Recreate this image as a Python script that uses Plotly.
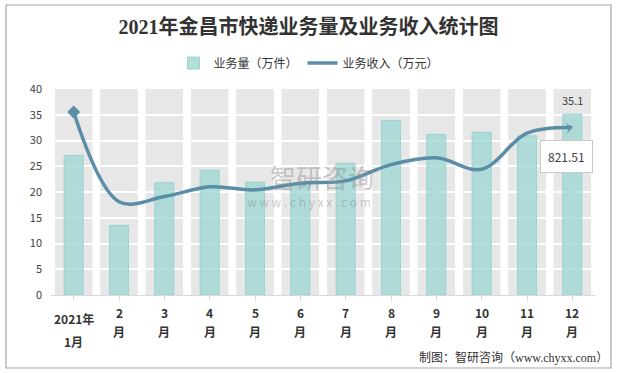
import plotly.graph_objects as go

months_top = ["2021年", "2", "3", "4", "5", "6", "7", "8", "9", "10", "11", "12"]
months_bottom = ["1月", "月", "月", "月", "月", "月", "月", "月", "月", "月", "月", "月"]
volume = [27.1, 13.5, 21.8, 24.2, 21.9, 21.6, 25.6, 33.9, 31.2, 31.6, 30.9, 35.1]
revenue = [898, 458, 483, 531, 516, 549, 560, 640, 673, 617, 794, 821.51]

Y_MAX = 40
Y2_MAX = 1011

BAR_COLOR = "rgba(160,215,211,0.8)"
BAR_LINE = "rgba(150,210,205,0.9)"
LINE_COLOR = "#5A8EA7"
TXT = "#333333"
CJK = "Noto Sans CJK SC"

# plot area geometry (pixels)
L, R, T, B = 51, 22, 89, 78
W = 617 - L - R
H = 373 - T - B


def px(xp):
    return (xp - L) / W


def py(yp):
    return (T + H - yp) / H


n = len(months_top)
x_idx = list(range(n))

fig = go.Figure()
fig.add_trace(go.Bar(
    x=x_idx, y=volume, name="业务量（万件）", width=0.42,
    marker=dict(color=BAR_COLOR, line=dict(color=BAR_LINE, width=1)),
))
sizes = [0] * (n - 1) + [11]
symbols = ["circle"] * (n - 1) + ["arrow-wide"]
fig.add_trace(go.Scatter(
    x=x_idx, y=revenue, name="业务收入（万元）", yaxis="y2",
    mode="lines+markers",
    line=dict(color=LINE_COLOR, width=3.5, shape="spline", smoothing=1.0),
    marker=dict(size=sizes, symbol=symbols, color=LINE_COLOR, angleref="previous",
                line=dict(width=0)),
))
# start-of-line marker (diamond at the first point)
fig.add_trace(go.Scatter(
    x=x_idx[:1], y=revenue[:1], yaxis="y2", mode="markers", showlegend=False,
    marker=dict(size=10, symbol="diamond", color=LINE_COLOR, line=dict(width=0)),
    hoverinfo="skip",
))

shapes = []
for i in x_idx:
    shapes.append(dict(type="rect", xref="x", yref="y", x0=i - 0.415, x1=i + 0.415,
                       y0=0, y1=Y_MAX, fillcolor="#E7E7E7", line=dict(width=0),
                       layer="below"))
shapes.append(dict(type="rect", xref="paper", yref="paper",
                   x0=px(6), x1=px(611), y0=py(368), y1=py(5),
                   line=dict(color="#A6A6A6", width=1.2), fillcolor="rgba(0,0,0,0)"))

annotations = [
    dict(x=11, y=volume[-1], xref="x", yref="y", text=f"{volume[-1]}", showarrow=False,
         yanchor="bottom", yshift=4, font=dict(size=11, color="#404040", family=CJK)),
    dict(x=11, y=revenue[-1], xref="x", yref="y2", text=f"{revenue[-1]}",
         showarrow=True, arrowhead=0, arrowwidth=1, arrowcolor="#C8C8C8",
         ax=-6, ay=29, bgcolor="white", bordercolor="#C8C8C8", borderwidth=1,
         borderpad=7, font=dict(size=12, color="#404040", family=CJK)),
    dict(x=px(610), y=py(357), xref="paper", yref="paper", text="制图：智研咨询（www.chyxx.com）",
         showarrow=False, xanchor="right", yanchor="middle",
         font=dict(size=12, color=TXT, family="Liberation Serif, " + CJK)),
    dict(x=px(322), y=py(176), xref="paper", yref="paper", text="智研咨询",
         showarrow=False, font=dict(size=26, color="rgba(140,140,140,0.45)", family=CJK)),
    dict(x=px(309), y=py(201), xref="paper", yref="paper",
         text="w w w . c h y x x . c o m", showarrow=False,
         font=dict(size=12, color="rgba(140,140,140,0.45)", family=CJK)),
]
for i in x_idx:
    first = i == 0
    annotations.append(dict(x=i, y=py(318 if first else 312), xref="x", yref="paper",
                            text=f"<b>{months_top[i]}</b>", showarrow=False, yanchor="middle",
                            font=dict(size=12, color=TXT, family=CJK)))
    annotations.append(dict(x=i, y=py(341 if first else 331), xref="x", yref="paper",
                            text=f"<b>{months_bottom[i]}</b>", showarrow=False, yanchor="middle",
                            font=dict(size=12, color=TXT, family=CJK)))

fig.update_layout(
    width=617, height=373,
    margin=dict(l=L, r=R, t=T, b=B, autoexpand=False),
    paper_bgcolor="white", plot_bgcolor="white",
    title=dict(text="<b>2021年金昌市快递业务量及业务收入统计图</b>", x=0.5, xanchor="center",
               y=1 - 27 / 373, yanchor="middle",
               font=dict(size=20, color=TXT, family="Liberation Serif, " + CJK)),
    legend=dict(orientation="h", x=px(309), xanchor="center", y=py(63), yanchor="middle",
                font=dict(size=12, color=TXT, family=CJK), itemwidth=30,
                bgcolor="rgba(0,0,0,0)"),
    xaxis=dict(range=[-0.5, n - 0.5], tickmode="array", tickvals=x_idx, showticklabels=False,
               ticks="outside", tickson="boundaries", ticklen=5, tickcolor="#D9D9D9",
               showline=True, linecolor="#D9D9D9", linewidth=1, showgrid=False,
               fixedrange=True),
    yaxis=dict(range=[0, Y_MAX], dtick=5, showgrid=True, gridcolor="white", gridwidth=1.5,
               zeroline=False, showline=False, ticks="", ticklabelstandoff=8,
               tickfont=dict(size=11, color="#404040", family=CJK)),
    yaxis2=dict(range=[0, Y2_MAX], overlaying="y", side="right", visible=False),
    barmode="overlay",
    shapes=shapes,
    annotations=annotations,
    showlegend=True,
)

fig.write_html("out.html", config={"displayModeBar": False},
               post_script="document.body.style.margin='0';")
